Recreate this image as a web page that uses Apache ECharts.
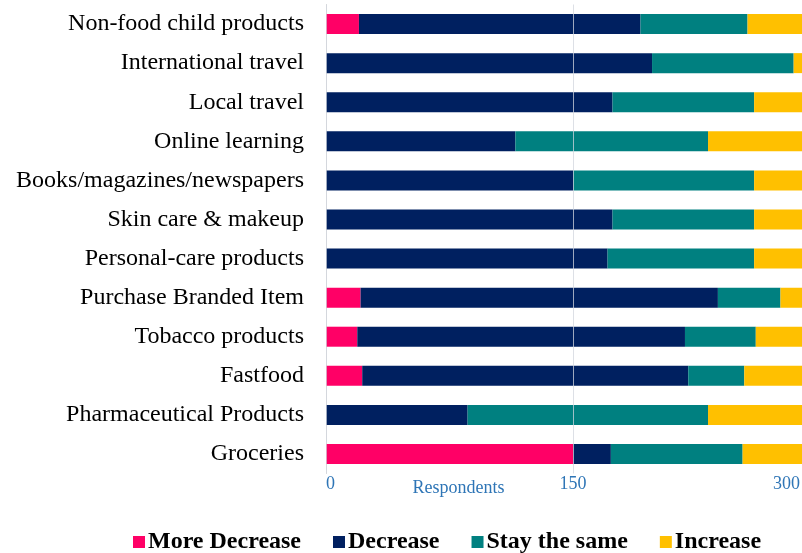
<!DOCTYPE html>
<html>
<head>
<meta charset="utf-8">
<style>html,body{margin:0;padding:0;background:#fff}#c{width:802px;height:553px}</style>
<script src="https://cdn.jsdelivr.net/npm/echarts@6/dist/echarts.min.js"></script>
</head>
<body>
<div id="c"></div>
<script>
const categories = ["Non-food child products","International travel","Local travel","Online learning","Books/magazines/newspapers","Skin care & makeup","Personal-care products","Purchase Branded Item","Tobacco products","Fastfood","Pharmaceutical Products","Groceries"];
const moreDecrease = [20,0,0,0,0,0,0,21,19,22,0,150];
const decrease = [171,198,174,115,150,174,171,217,199,198,86,23];
const stayTheSame = [65,86,86,117,110,86,89,38,43,34,146,80];
const increase = [44,16,40,68,40,40,40,24,39,46,68,47];
const seriesNames = ["More Decrease","Decrease","Stay the same","Increase"];
const colors = ["#ff0066","#002060","#008080","#ffc000"];
const xTicks = [0,150,300];

const chart = echarts.init(document.getElementById('c'));
const dataSets = [moreDecrease, decrease, stayTheSame, increase];
chart.setOption({
  animation: false,
  color: colors,
  grid: {left: 326, right: -18, top: 4.5, bottom: 79.5, outerBoundsMode: 'none', containLabel: false},
  legend: {
    left: 128, top: 525,
    itemWidth: 12, itemHeight: 12, itemGap: 32,
    icon: 'rect',
    textStyle: {fontFamily: 'Liberation Serif', fontWeight: 'bold', fontSize: 24, color: '#000', padding: [0,0,0,-2]},
    data: seriesNames
  },
  xAxis: {
    type: 'value', min: xTicks[0], max: xTicks[2], interval: 150, z: 10,
    axisLine: {show: false}, axisTick: {show: false},
    splitLine: {lineStyle: {color: 'rgba(210,214,222,0.75)', width: 1}},
    axisLabel: {
      margin: 2, fontFamily: 'Liberation Serif', fontSize: 18, color: '#2e75b6',
      alignMinLabel: 'left', alignMaxLabel: 'right',
      formatter: v => v === 300 ? '{m|' + v + '}' : String(v),
      rich: {m: {padding: [0, 20, 0, 0], fontFamily: 'Liberation Serif', fontSize: 18, color: '#2e75b6'}}
    },
    name: 'Respondents', nameLocation: 'middle', nameGap: 6, nameMoveOverlap: false,
    nameTextStyle: {fontFamily: 'Liberation Serif', fontSize: 18, color: '#2e75b6', padding: [0, 229, 0, 0]}
  },
  yAxis: {
    type: 'category', inverse: true, data: categories,
    axisLine: {show: true, lineStyle: {color: '#d9d9d9'}},
    axisTick: {show: false},
    axisLabel: {margin: 22, fontFamily: 'Liberation Serif', fontSize: 24, color: '#000'}
  },
  series: seriesNames.map((n, i) => ({
    name: n, type: 'bar', stack: 'total', barWidth: 20,
    data: dataSets[i],
    itemStyle: {color: colors[i]}
  }))
});
</script>
</body>
</html>
